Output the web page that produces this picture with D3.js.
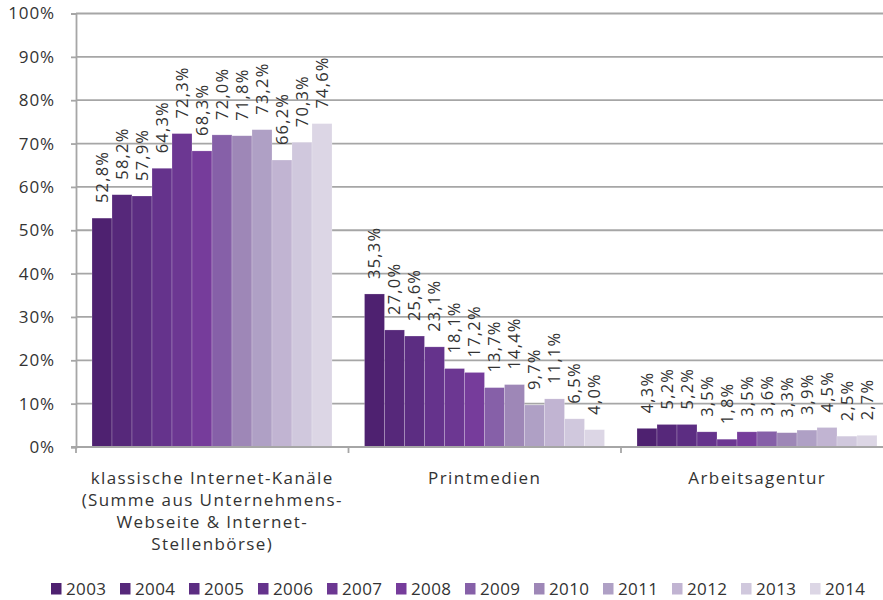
<!DOCTYPE html>
<html>
<head>
<meta charset="utf-8">
<script src="https://cdn.jsdelivr.net/npm/d3@7/dist/d3.min.js"></script>
<style>
  html, body { margin: 0; padding: 0; background: #fff; }
  svg { display: block; font-family: "Open Sans", "Noto Sans", sans-serif; }
</style>
</head>
<body>
<svg id="chart" width="883" height="600"></svg>
<script>
// chart data
const categories = [
  ["klassische Internet-Kanäle", "(Summe aus Unternehmens-", "Webseite & Internet-", "Stellenbörse)"],
  ["Printmedien"],
  ["Arbeitsagentur"]
];
const years = ["2003", "2004", "2005", "2006", "2007", "2008", "2009", "2010", "2011", "2012", "2013", "2014"];
const internetValues = [52.8, 58.2, 57.9, 64.3, 72.3, 68.3, 72.0, 71.8, 73.2, 66.2, 70.3, 74.6];
const printValues = [35.3, 27.0, 25.6, 23.1, 18.1, 17.2, 13.7, 14.4, 9.7, 11.1, 6.5, 4.0];
const agenturValues = [4.3, 5.2, 5.2, 3.5, 1.8, 3.5, 3.6, 3.3, 3.9, 4.5, 2.5, 2.7];
const yearColors = ["#4e2170", "#56287a", "#5c2d82", "#65338c", "#6c3792", "#763c9b",
                    "#8660a8", "#9e87b7", "#afa0c5", "#c1b4d2", "#d0c8dd", "#dcd6e5"];
const yTicks = [0, 10, 20, 30, 40, 50, 60, 70, 80, 90, 100];

const seriesByCat = [internetValues, printValues, agenturValues];

const svg = d3.select("#chart");
const textColor = "#333333";
const gridColor = "#a6a6a6";

const x0 = d3.scaleBand().domain(d3.range(categories.length)).range([76, 893.5]);
const x1 = d3.scaleBand().domain(years).range([16, x0.bandwidth() - 16.5]);
const y = d3.scaleLinear().domain([0, 100]).range([447, 13.5]);
const color = d3.scaleOrdinal().domain(years).range(yearColors);

// gridlines
svg.append("g")
  .selectAll("line")
  .data(yTicks.filter(d => d > 0))
  .join("line")
  .attr("x1", 76).attr("x2", 883)
  .attr("y1", d => y(d)).attr("y2", d => y(d))
  .attr("stroke", gridColor).attr("stroke-width", 1.8);

// y axis
const yAxis = svg.append("g")
  .attr("transform", "translate(76,0)")
  .call(d3.axisLeft(y).tickValues(yTicks).tickSize(5).tickPadding(16).tickFormat(d => d + "%"));
yAxis.select(".domain").attr("stroke", gridColor).attr("stroke-width", 1.8);
yAxis.selectAll(".tick line").attr("stroke", gridColor).attr("stroke-width", 1.8);
yAxis.selectAll(".tick text")
  .attr("fill", textColor).attr("font-size", 17).attr("letter-spacing", 0.9)
  .attr("font-family", "'Open Sans', sans-serif");

// bars
const groups = svg.append("g")
  .selectAll("g")
  .data(seriesByCat)
  .join("g")
  .attr("transform", (d, i) => `translate(${x0(i)},0)`);

groups.selectAll("rect")
  .data(vals => vals.map((v, j) => ({ year: years[j], value: v })))
  .join("rect")
  .attr("x", d => x1(d.year))
  .attr("width", x1.bandwidth())
  .attr("y", d => y(d.value))
  .attr("height", d => y(0) - y(d.value))
  .attr("fill", d => color(d.year))
  .attr("stroke", "rgba(255,255,255,0.35)")
  .attr("stroke-width", 0.6);

groups.selectAll("text.val")
  .data(vals => vals.map((v, j) => ({ year: years[j], value: v })))
  .join("text")
  .attr("class", "val")
  .attr("transform", d => `translate(${x1(d.year) + x1.bandwidth() / 2},${y(d.value) - 15}) rotate(-90)`)
  .attr("dy", "0.36em")
  .attr("fill", textColor)
  .attr("font-size", 16.5)
  .attr("letter-spacing", 1.2)
  .text(d => d.value.toFixed(1).replace(".", ",") + "%");

// x axis baseline
const xAxis = svg.append("g")
  .attr("transform", `translate(0,${y(0)})`)
  .call(d3.axisBottom(x0).tickSize(0).tickFormat(""));
xAxis.select(".domain").attr("stroke", gridColor).attr("stroke-width", 1.8).attr("d", "M71,0H883");
xAxis.selectAll(".tick").remove();

// category boundary ticks
svg.append("g")
  .selectAll("line")
  .data(d3.range(categories.length))
  .join("line")
  .attr("x1", i => x0(i)).attr("x2", i => x0(i))
  .attr("y1", y(0)).attr("y2", y(0) + 6)
  .attr("stroke", gridColor).attr("stroke-width", 1.8);

// category labels
svg.append("g")
  .selectAll("text")
  .data(categories)
  .join("text")
  .attr("x", (d, i) => x0(i) + x0.bandwidth() / 2)
  .attr("y", 484)
  .attr("text-anchor", "middle")
  .attr("fill", textColor)
  .attr("font-size", 17)
  .attr("letter-spacing", 1.4)
  .each(function (lines) {
    d3.select(this).selectAll("tspan")
      .data(lines)
      .join("tspan")
      .attr("x", d3.select(this).attr("x"))
      .attr("dy", (l, k) => k === 0 ? 0 : 22)
      .text(l => l);
  });

// legend
const legend = svg.append("g")
  .selectAll("g")
  .data(years)
  .join("g")
  .attr("transform", (d, i) => `translate(${51 + i * 69},583)`);
legend.append("rect")
  .attr("width", 10.5).attr("height", 11.5)
  .attr("fill", d => color(d));
legend.append("text")
  .attr("x", 15).attr("y", 6)
  .attr("dy", "0.36em")
  .attr("fill", textColor)
  .attr("font-size", 17)
  .attr("letter-spacing", 0.4)
  .text(d => d);
</script>
</body>
</html>
